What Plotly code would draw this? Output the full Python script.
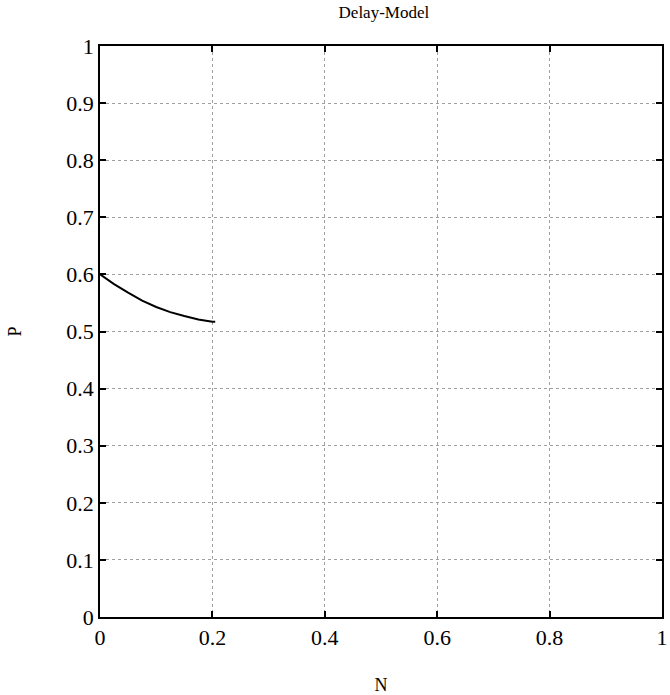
import plotly.graph_objects as go

# Data
N_vals = [0.0, 0.025, 0.05, 0.075, 0.1, 0.125, 0.15, 0.175, 0.2, 0.205]
P_vals = [0.600, 0.583, 0.568, 0.554, 0.543, 0.534, 0.527, 0.521, 0.517, 0.517]

x_ticks = [0, 0.2, 0.4, 0.6, 0.8, 1]
y_ticks = [0, 0.1, 0.2, 0.3, 0.4, 0.5, 0.6, 0.7, 0.8, 0.9, 1]

title_text = "Delay-Model"
x_title = "N"
y_title = "P"

FONT = "Liberation Serif, Times New Roman, serif"

fig = go.Figure()
fig.add_trace(go.Scatter(x=N_vals, y=P_vals, mode="lines",
                         line=dict(color="black", width=2),
                         showlegend=False, hoverinfo="skip"))

axis_common = dict(
    showline=True, linecolor="black", linewidth=1.5, mirror="ticks",
    ticks="inside", ticklen=6, tickwidth=1.5, tickcolor="black",
    showgrid=True, gridcolor="#a0a0a0", griddash="dot", gridwidth=1,
    zeroline=False, ticklabeloverflow="allow",
    tickfont=dict(family=FONT, size=22, color="black"),
)

fig.update_xaxes(range=[0, 1], tickvals=x_ticks,
                 ticktext=[f"{v:g}" for v in x_ticks],
                 title=dict(text=x_title, font=dict(family=FONT, size=18, color="black"),
                            standoff=30),
                 **axis_common)
fig.update_yaxes(range=[0, 1], tickvals=y_ticks,
                 ticktext=[f"{v:g}" for v in y_ticks],
                 title=dict(text=y_title, font=dict(family=FONT, size=18, color="black"),
                            standoff=40),
                 **axis_common)

fig.update_layout(
    width=670, height=695,
    margin=dict(l=100, r=2, t=46, b=77),
    paper_bgcolor="white", plot_bgcolor="white",
    title=dict(text=title_text, x=0.573, xanchor="center", y=0.982, yanchor="middle",
               font=dict(family=FONT, size=17, color="black")),
)

fig.write_html("out.html")
